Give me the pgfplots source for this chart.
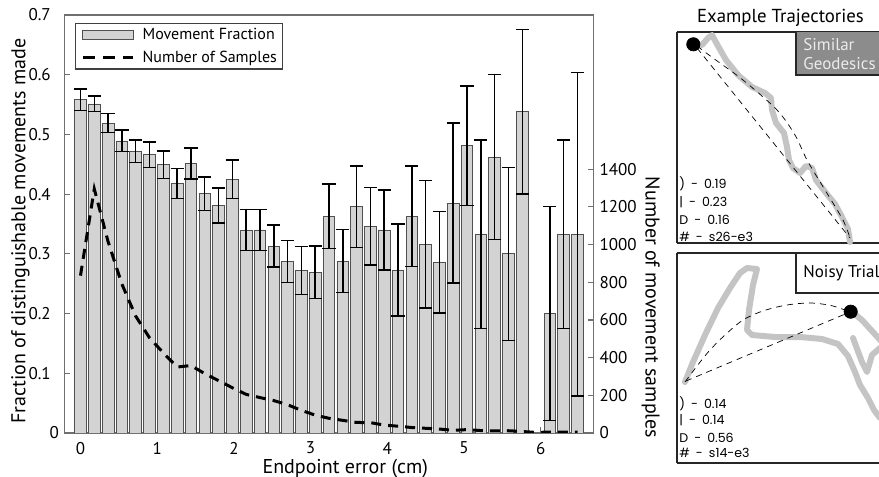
\documentclass[border=0pt]{standalone}
\usepackage{fontspec}
\setmainfont{PT Sans}
\newfontfamily\smallfont{Poppins}
\usepackage{pgfplots}
\usepackage{pgfplotstable}
\pgfplotsset{compat=1.18}

\definecolor{barfill}{HTML}{D3D3D3}
\definecolor{baredge}{HTML}{505050}
\definecolor{axgray}{HTML}{707070}
\definecolor{trajgray}{HTML}{C4C4C4}
\definecolor{boxgray}{HTML}{8C8C8C}
\newcommand{\sep}{\hspace{3pt}-\hspace{3pt}}

\pgfplotstableread{
x y err
0.00 0.558 0.018
0.18 0.551 0.013
0.36 0.519 0.016
0.54 0.489 0.018
0.72 0.472 0.019
0.90 0.466 0.021
1.08 0.449 0.023
1.26 0.418 0.025
1.44 0.451 0.026
1.62 0.401 0.028
1.80 0.381 0.029
1.98 0.425 0.032
2.16 0.340 0.034
2.34 0.340 0.034
2.52 0.313 0.035
2.70 0.287 0.035
2.88 0.272 0.040
3.06 0.269 0.044
3.24 0.363 0.054
3.42 0.288 0.053
3.60 0.379 0.068
3.78 0.346 0.065
3.96 0.340 0.067
4.14 0.273 0.077
4.32 0.363 0.084
4.50 0.316 0.107
4.68 0.286 0.085
4.86 0.385 0.134
5.04 0.481 0.100
5.22 0.333 0.158
5.40 0.462 0.138
5.58 0.300 0.145
5.76 0.538 0.138
6.12 0.200 0.179
6.30 0.333 0.158
6.48 0.333 0.271
}\bardata

\pgfplotstableread{
x n
0.00 835
0.18 1295
0.36 1015
0.54 790
0.72 620
0.90 505
1.08 425
1.26 350
1.44 358
1.62 315
1.80 278
1.98 240
2.16 205
2.34 188
2.52 172
2.70 150
2.88 120
3.06 95
3.24 78
3.42 67
3.60 56
3.78 55
3.96 42
4.14 36
4.32 29
4.50 25
4.68 21
4.86 14
5.04 18
5.22 13
5.40 11
5.58 12
5.76 8
5.94 3
6.12 5
6.30 5
6.48 4
}\sampledata

\begin{document}
\begin{tikzpicture}
\useasboundingbox (0pt,0pt) rectangle (439.5pt,238.5pt);

% ---------- main axis (fractions, bars) ----------
\begin{axis}[
  at={(32.15pt,22pt)}, anchor=south west,
  scale only axis, width=264.5pt, height=209pt,
  xmin=-0.211, xmax=6.686, ymin=0, ymax=0.7,
  xtick={0,1,2,3,4,5,6},
  ytick={0,0.1,0.2,0.3,0.4,0.5,0.6,0.7},
  yticklabels={\rlap{0},0.1,0.2,0.3,0.4,0.5,0.6,0.7},
  ytick pos=left, xtick pos=bottom,
  tick align=inside, major tick length=2.8pt,
  axis line style={axgray, line width=0.6pt},
  tick style={axgray, line width=0.6pt},
  /pgf/number format/assume math mode=true,
  tick label style={font=\fontsize{8.5}{10}\selectfont},
  yticklabel style={anchor=east, inner sep=0pt, xshift=-6.6pt},
  xticklabel style={anchor=north, inner sep=0pt, yshift=-4.3pt},
  xlabel={Endpoint error (cm)},
  ylabel={Fraction of distinguishable movements made},
  xlabel style={font=\fontsize{9.4}{11}\selectfont},
  ylabel style={font=\fontsize{9}{11}\selectfont},
  every axis x label/.style={at={(axis description cs:0.531,0)}, anchor=base, yshift=-20.15pt},
  every axis y label/.style={at={(axis description cs:-0.0828,0.483)}, rotate=90, anchor=center},
  legend style={at={(axis description cs:0.0203,0.9816)}, anchor=north west,
    draw=black!75, line width=0.6pt, fill=white,
    font=\fontsize{8}{9}\selectfont,
    inner xsep=2.85pt, inner ysep=1.2pt, row sep=2.5pt,
    nodes={inner sep=0pt, text height=7pt, text depth=2pt},
    /tikz/every odd column/.append style={column sep=4.15pt}},
  legend cell align=left,
]
\addplot[ybar, bar width=0.152, fill=barfill, draw=baredge, line width=0.4pt,
  legend image code/.code={\draw[fill=barfill, draw=baredge, line width=0.4pt] (0pt,-2.25pt) rectangle (25.5pt,2.25pt);},
  error bars/.cd, y dir=both, y explicit,
  error bar style={black, line width=0.75pt},
  error mark options={black, rotate=90, mark size=3.3pt, line width=0.75pt}]
  table[x=x, y=y, y error=err]{\bardata};
\addlegendentry{Movement Fraction}
\addlegendimage{legend image code/.code={\draw[black, line width=1.5pt, dash pattern=on 6pt off 4pt] (0pt,0pt) -- (25pt,0pt);}}
\addlegendentry{Number of Samples}
\end{axis}

% ---------- right axis (number of samples) ----------
\begin{axis}[
  at={(32.15pt,22pt)}, anchor=south west,
  scale only axis, width=264.5pt, height=209pt,
  xmin=-0.211, xmax=6.686, ymin=0, ymax=2218,
  axis x line=none, axis y line*=right,
  ytick={0,200,400,600,800,1000,1200,1400},
  tick align=inside, major tick length=2.8pt,
  axis line style={-, axgray, line width=0.6pt},
  tick style={axgray, line width=0.6pt},
  /pgf/number format/assume math mode=true,
  /pgf/number format/1000 sep={},
  tick label style={font=\fontsize{8.5}{10}\selectfont},
  yticklabel style={anchor=west, inner sep=0pt, xshift=2.9pt},
  ylabel={Number of movement samples},
  label style={font=\fontsize{8.8}{11}\selectfont},
  every axis y label/.style={at={(axis description cs:1.1085,0.30)}, rotate=-90, anchor=center},
]
\addplot[black, line width=1.5pt, dash pattern=on 5pt off 3.5pt]
  table[x=x, y=n]{\sampledata};
\end{axis}

% ---------- top example trajectory ----------
\begin{axis}[
  at={(338.35pt,116.85pt)}, anchor=south west,
  scale only axis, width=101.15pt, height=105.8pt,
  xmin=676.7, xmax=879, ymin=31.7, ymax=243.3, y dir=reverse,
  xtick=\empty, ytick=\empty, clip=false,
  axis x line*=box, axis y line*=left,
  axis line style={-, black!85, line width=0.9pt},
]
\addplot[trajgray, line width=3pt, line join=round, line cap=round] coordinates {
 (693,44) (702,45) (708,38) (712,35) (718,46) (726,60) (738,75) (752,87) (765,93)
 (771,98) (772,110) (776,123) (784,133) (787,147) (789,160) (793,168) (800,173)
 (806,166) (812,168) (816,180) (826,193) (835,204) (842,217) (848,229) (850,242)};
\addplot[black, line width=0.35pt, dash pattern=on 3pt off 2.5pt] coordinates {(697,48) (850,238)};
\addplot[black, line width=0.35pt, dash pattern=on 3pt off 2.5pt, smooth] coordinates {
 (697,46) (713,58) (743,80) (777,110) (795,135) (807,160) (825,190) (843,220) (850,238)};
\addplot[only marks, mark=*, mark size=3.3pt, black] coordinates {(693.3,44.3)};
\fill[boxgray] (axis cs:796,31.7) rectangle (axis cs:879,75);
\draw[black!85, line width=0.9pt] (axis cs:879,75) -- (axis cs:796,75) -- (axis cs:796,31.7);
\node[anchor=base, font=\fontsize{9.4}{11}\selectfont, inner sep=0pt] at (axis cs:780.5,22.5) {Example Trajectories};
\node[anchor=west, text=white!92!black, font=\fontsize{8.5}{10}\selectfont, inner sep=0pt] at (axis cs:803,45) {Similar};
\node[anchor=west, text=white!92!black, font=\fontsize{8.5}{10}\selectfont, inner sep=0pt] at (axis cs:803,64) {Geodesics};
\node[anchor=west, font=\smallfont\fontsize{6.3}{7}\selectfont, inner sep=0pt] at (axis cs:679,184) {)\sep 0.19};
\node[anchor=west, font=\smallfont\fontsize{6.3}{7}\selectfont, inner sep=0pt] at (axis cs:679,201.7) {|\sep 0.23};
\node[anchor=west, font=\smallfont\fontsize{6.3}{7}\selectfont, inner sep=0pt] at (axis cs:679,220) {D\sep 0.16};
\node[anchor=west, font=\smallfont\fontsize{6.3}{7}\selectfont, inner sep=0pt] at (axis cs:679,237) {\#\sep s26-e3};
\end{axis}

% ---------- bottom example trajectory ----------
\begin{axis}[
  at={(338.35pt,7.15pt)}, anchor=south west,
  scale only axis, width=101.15pt, height=104.7pt,
  xmin=676.7, xmax=879, ymin=253.3, ymax=462.7, y dir=reverse,
  xtick=\empty, ytick=\empty, clip=false,
  axis x line*=box, axis y line*=left,
  axis line style={-, black!85, line width=0.9pt},
]
\addplot[trajgray, line width=3pt, line join=round, line cap=round] coordinates {
 (685,382) (693,362) (705,335) (718,308) (730,288) (740,273) (747,268) (757,269)
 (753,285) (749,310) (747,330) (752,335) (775,337) (800,337) (822,339) (838,344)
 (848,356) (855,372) (860,385) (868,398) (874,410) (880,418)};
\addplot[trajgray, line width=3pt, line join=round, line cap=round] coordinates {
 (853,338) (862,362) (867,372) (872,355) (880,348)};
\addplot[trajgray, line width=3pt, line join=round, line cap=round] coordinates {
 (851,311) (862,320) (872,331) (882,342)};
\addplot[black, line width=0.35pt, dash pattern=on 3pt off 2.5pt] coordinates {(686,381) (850,312)};
\addplot[black, line width=0.35pt, dash pattern=on 3pt off 2.5pt, smooth] coordinates {
 (685,382) (697,366) (710,350) (726,334) (743,320) (760,312) (777,307) (794,304)
 (810,303) (822,304) (833,306) (845,310) (850,312)};
\addplot[only marks, mark=*, mark size=3.3pt, black] coordinates {(850.7,311.7)};
\draw[black!85, line width=0.9pt] (axis cs:879,293.3) -- (axis cs:796,293.3) -- (axis cs:796,253.3);
\node[anchor=west, font=\fontsize{8.5}{10}\selectfont, inner sep=0pt] at (axis cs:803,273) {Noisy Trial};
\node[anchor=west, font=\smallfont\fontsize{6.3}{7}\selectfont, inner sep=0pt] at (axis cs:679,403.3) {)\sep 0.14};
\node[anchor=west, font=\smallfont\fontsize{6.3}{7}\selectfont, inner sep=0pt] at (axis cs:679,420) {|\sep 0.14};
\node[anchor=west, font=\smallfont\fontsize{6.3}{7}\selectfont, inner sep=0pt] at (axis cs:679,437.7) {D\sep 0.56};
\node[anchor=west, font=\smallfont\fontsize{6.3}{7}\selectfont, inner sep=0pt] at (axis cs:679,453.3) {\#\sep s14-e3};
\end{axis}

\end{tikzpicture}
\end{document}
